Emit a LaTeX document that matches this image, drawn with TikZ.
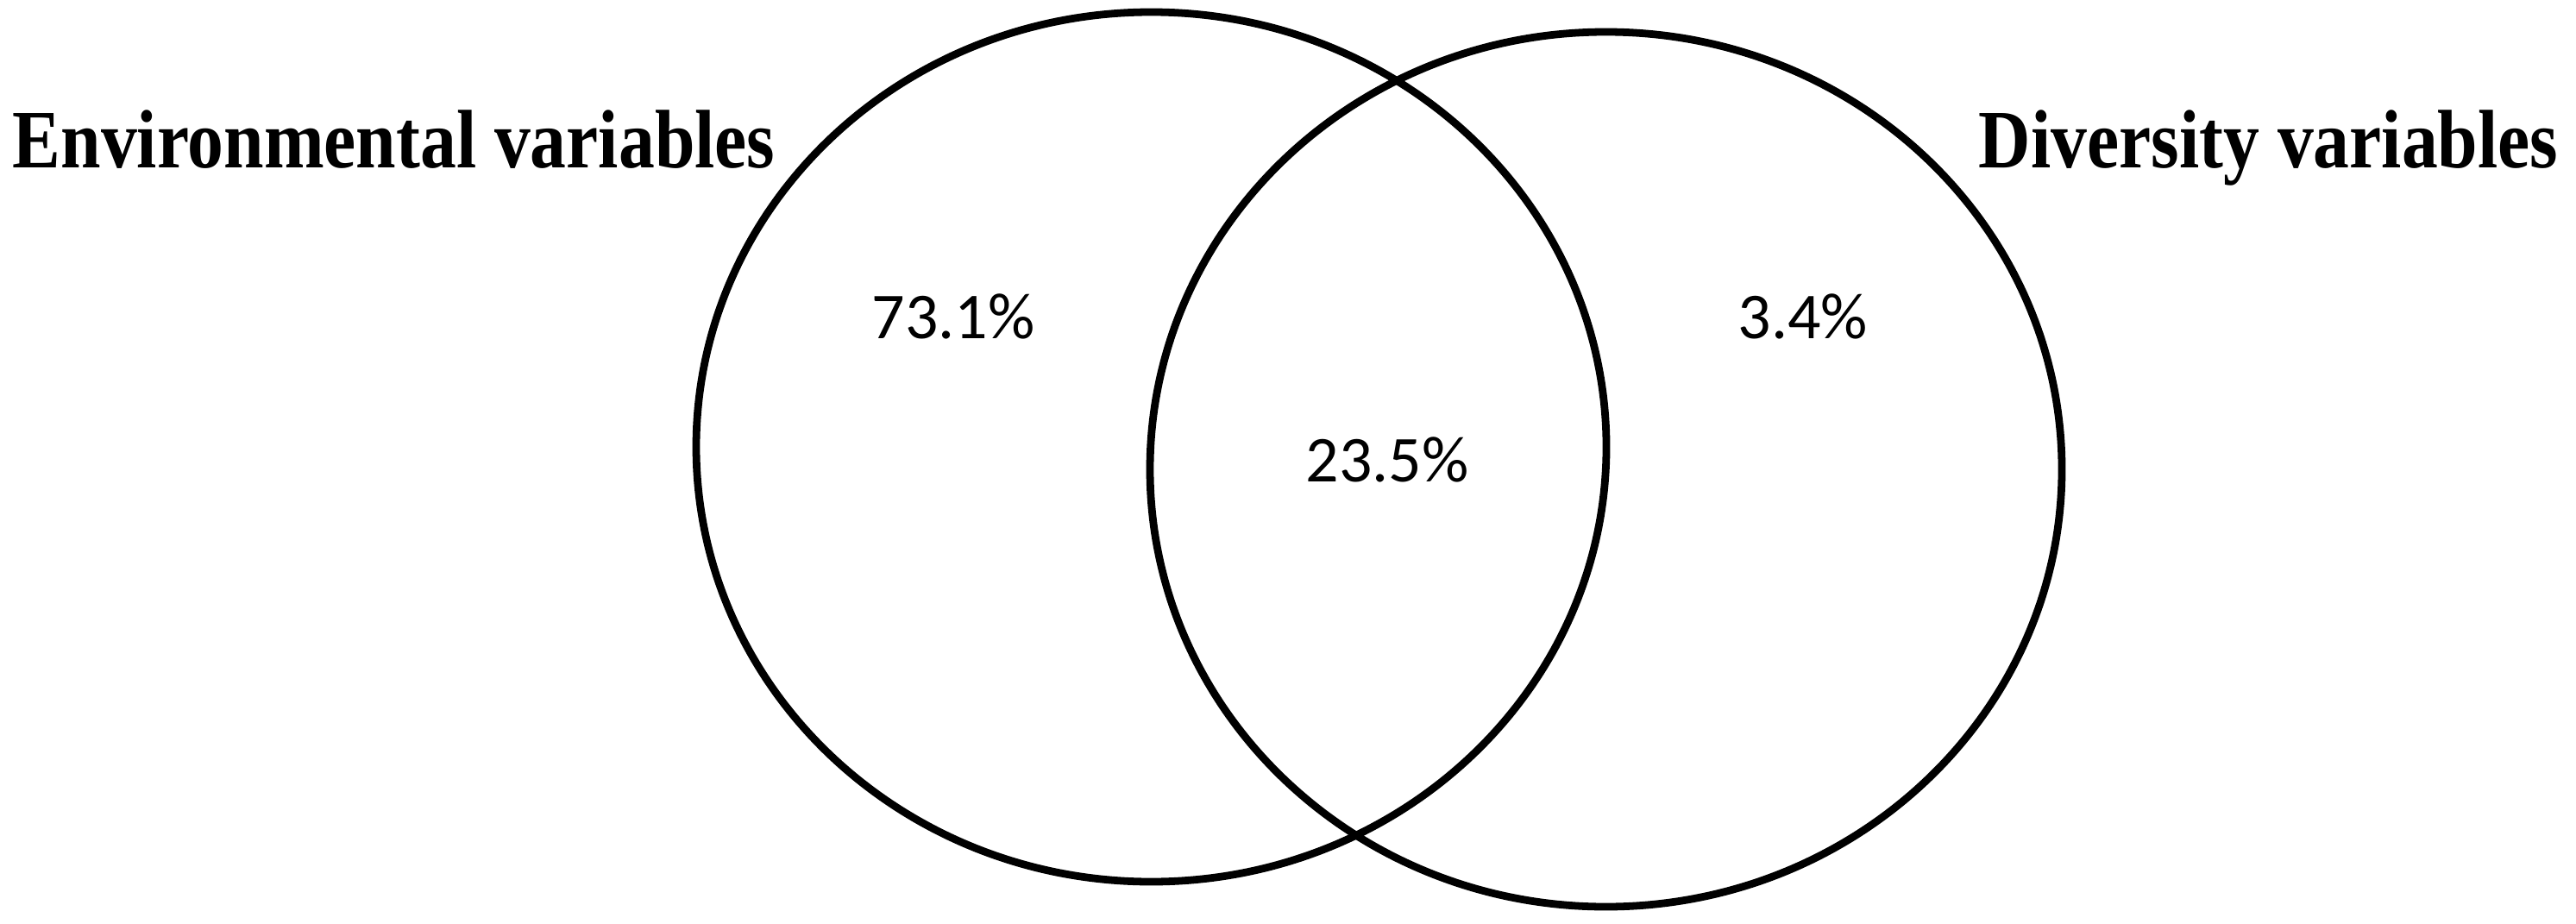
\documentclass[tikz,border=0pt]{standalone}
\usepackage{fontspec}
\setmainfont{Liberation Serif}
\newfontfamily\pctfont{Carlito}
\usetikzlibrary{shapes.geometric}
\newcommand{\tallbox}[1]{\scalebox{1}[1.15]{#1}}
\begin{document}
\begin{tikzpicture}[
  venn/.style={ellipse, draw=black, line width=2.5pt, inner sep=0pt},
  title/.style={font=\fontsize{23.8pt}{28pt}\selectfont\bfseries, inner sep=0pt},
  pct/.style={font=\pctfont\fontsize{21.6pt}{26pt}\selectfont, inner sep=0pt}
]
\useasboundingbox (0,0) rectangle (29.86,10.70);
\node[venn, minimum width=10.55cm, minimum height=10.08cm] (envset) at (13.345,5.52) {};
\node[venn, minimum width=10.57cm, minimum height=10.14cm] (divset) at (18.615,5.26) {};
\node[title, anchor=base west] (envlabel) at (0.14,8.75) {\tallbox{Environmental variables}};
\node[title, anchor=base east] (divlabel) at (29.66,8.75) {\tallbox{Diversity variables}};
\node[pct, anchor=base] (p1) at (11.05,6.78) {73.1\%};
\node[pct, anchor=base] (p2) at (16.08,5.12) {23.5\%};
\node[pct, anchor=base] (p3) at (20.90,6.78) {3.4\%};
\end{tikzpicture}
\end{document}
